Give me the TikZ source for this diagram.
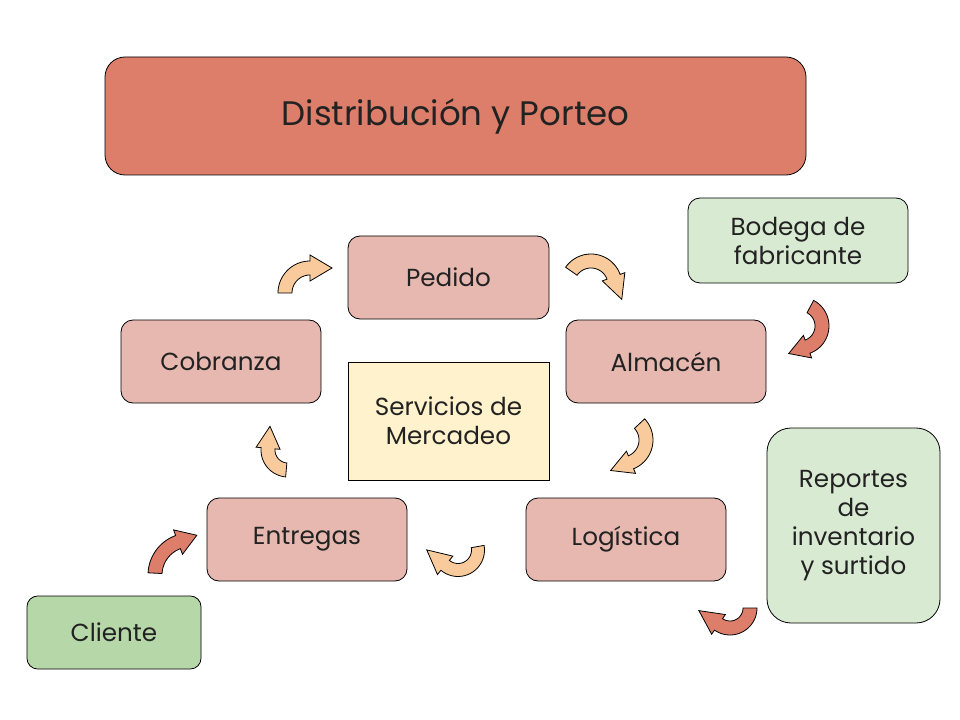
\documentclass[tikz,border=0pt]{standalone}
\usepackage{fontspec}
\setmainfont{Poppins}
\definecolor{titlefill}{HTML}{DD7E6B}
\definecolor{pinkfill}{HTML}{E6B8AF}
\definecolor{yellowfill}{HTML}{FFF2CC}
\definecolor{lightgreen}{HTML}{D9EAD3}
\definecolor{midgreen}{HTML}{B6D7A8}
\definecolor{orangearrow}{HTML}{F9CB9C}
\definecolor{redarrow}{HTML}{DD7E6B}
\definecolor{txt}{HTML}{222222}
% curved block arrow: #1 colour, #2 cx, #3 cy, #4 r, #5 a1, #6 ab, #7 half shaft, #8 half head, #9 head length
\newcommand{\curvedarrowshape}[9]{%
  \filldraw[fill=#1, draw=black, line width=0.6pt, line join=miter]
    plot[domain=#5:#6, samples=24] ({#2+(#4+#7)*cos(\x)},{#3+(#4+#7)*sin(\x)})
    -- ({#2+(#4+#8)*cos(#6)},{#3+(#4+#8)*sin(#6)})
    -- ({#2+#4*cos(#6)-#9*sin(#6)},{#3+#4*sin(#6)+#9*cos(#6)})
    -- ({#2+(#4-#8)*cos(#6)},{#3+(#4-#8)*sin(#6)})
    -- plot[domain=#6:#5, samples=24] ({#2+(#4-#7)*cos(\x)},{#3+(#4-#7)*sin(\x)})
    -- cycle;}
\begin{document}
\begin{tikzpicture}[x=0.75pt, y=-0.75pt,
  base/.style={draw=black, line width=0.6pt, text=txt, align=center, inner sep=2pt,
    font=\fontsize{18.5}{21.75}\selectfont},
  pinkbox/.style={base, fill=pinkfill, rounded corners=9pt, minimum width=150.75pt, minimum height=62.25pt},
  greenbox/.style={base, fill=lightgreen, rounded corners=9pt},
  titlebox/.style={base, fill=titlefill, rounded corners=15pt, minimum width=525.75pt, minimum height=88.5pt,
    font=\fontsize{25.5}{30}\selectfont}]
\fill[white] (0,0) rectangle (960,720);
\useasboundingbox (0,0) rectangle (960,720);

\node[titlebox] (title) at (455.5,116) {Distribución y Porteo};

\node[pinkbox] (pedido) at (448.5,277.5) {Pedido};
\node[pinkbox, minimum width=150pt] (cobranza) at (221,361.5) {Cobranza};
\node[pinkbox, minimum width=150pt] (almacen) at (666,361.5) {Almacén};
\node[pinkbox, minimum width=150pt] (entregas) at (307,539.5) {Entregas};
\node[pinkbox, minimum width=150pt] (logistica) at (626,539.5) {Logística};
\node[base, fill=yellowfill, minimum width=150.75pt, minimum height=88.5pt] (servicios) at (448.5,421) {Servicios de\\Mercadeo};

\node[greenbox, minimum width=165pt, minimum height=63.75pt] (bodega) at (798,240.5) {Bodega de\\fabricante};
\node[greenbox, rounded corners=18pt, minimum width=129.75pt, minimum height=146.25pt] (reportes) at (853.5,525.5) {Reportes\\de\\inventario\\y surtido};
\node[base, fill=midgreen, rounded corners=8pt, minimum width=130.5pt, minimum height=54.75pt] (cliente) at (114,632.5) {Cliente};

% light orange cycle arrows
\curvedarrowshape{orangearrow}{310}{293}{25}{180}{270}{7}{13}{22}
\curvedarrowshape{orangearrow}{591}{285}{24}{215}{340}{7}{12}{24}
\curvedarrowshape{orangearrow}{622}{440}{24}{-43}{68}{7}{12}{22}
\curvedarrowshape{orangearrow}{458}{550}{20}{-10}{130}{6.5}{12}{24}
\curvedarrowshape{orangearrow}{288}{450}{20}{95}{185}{7}{12}{22}
% red arrows
\curvedarrowshape{redarrow}{190}{575}{35}{183}{250}{7}{13}{20}
\curvedarrowshape{redarrow}{800}{326}{22}{-62}{70}{7}{12}{20}
\curvedarrowshape{redarrow}{730}{608}{20}{0}{125}{7}{12}{24}
\end{tikzpicture}
\end{document}
